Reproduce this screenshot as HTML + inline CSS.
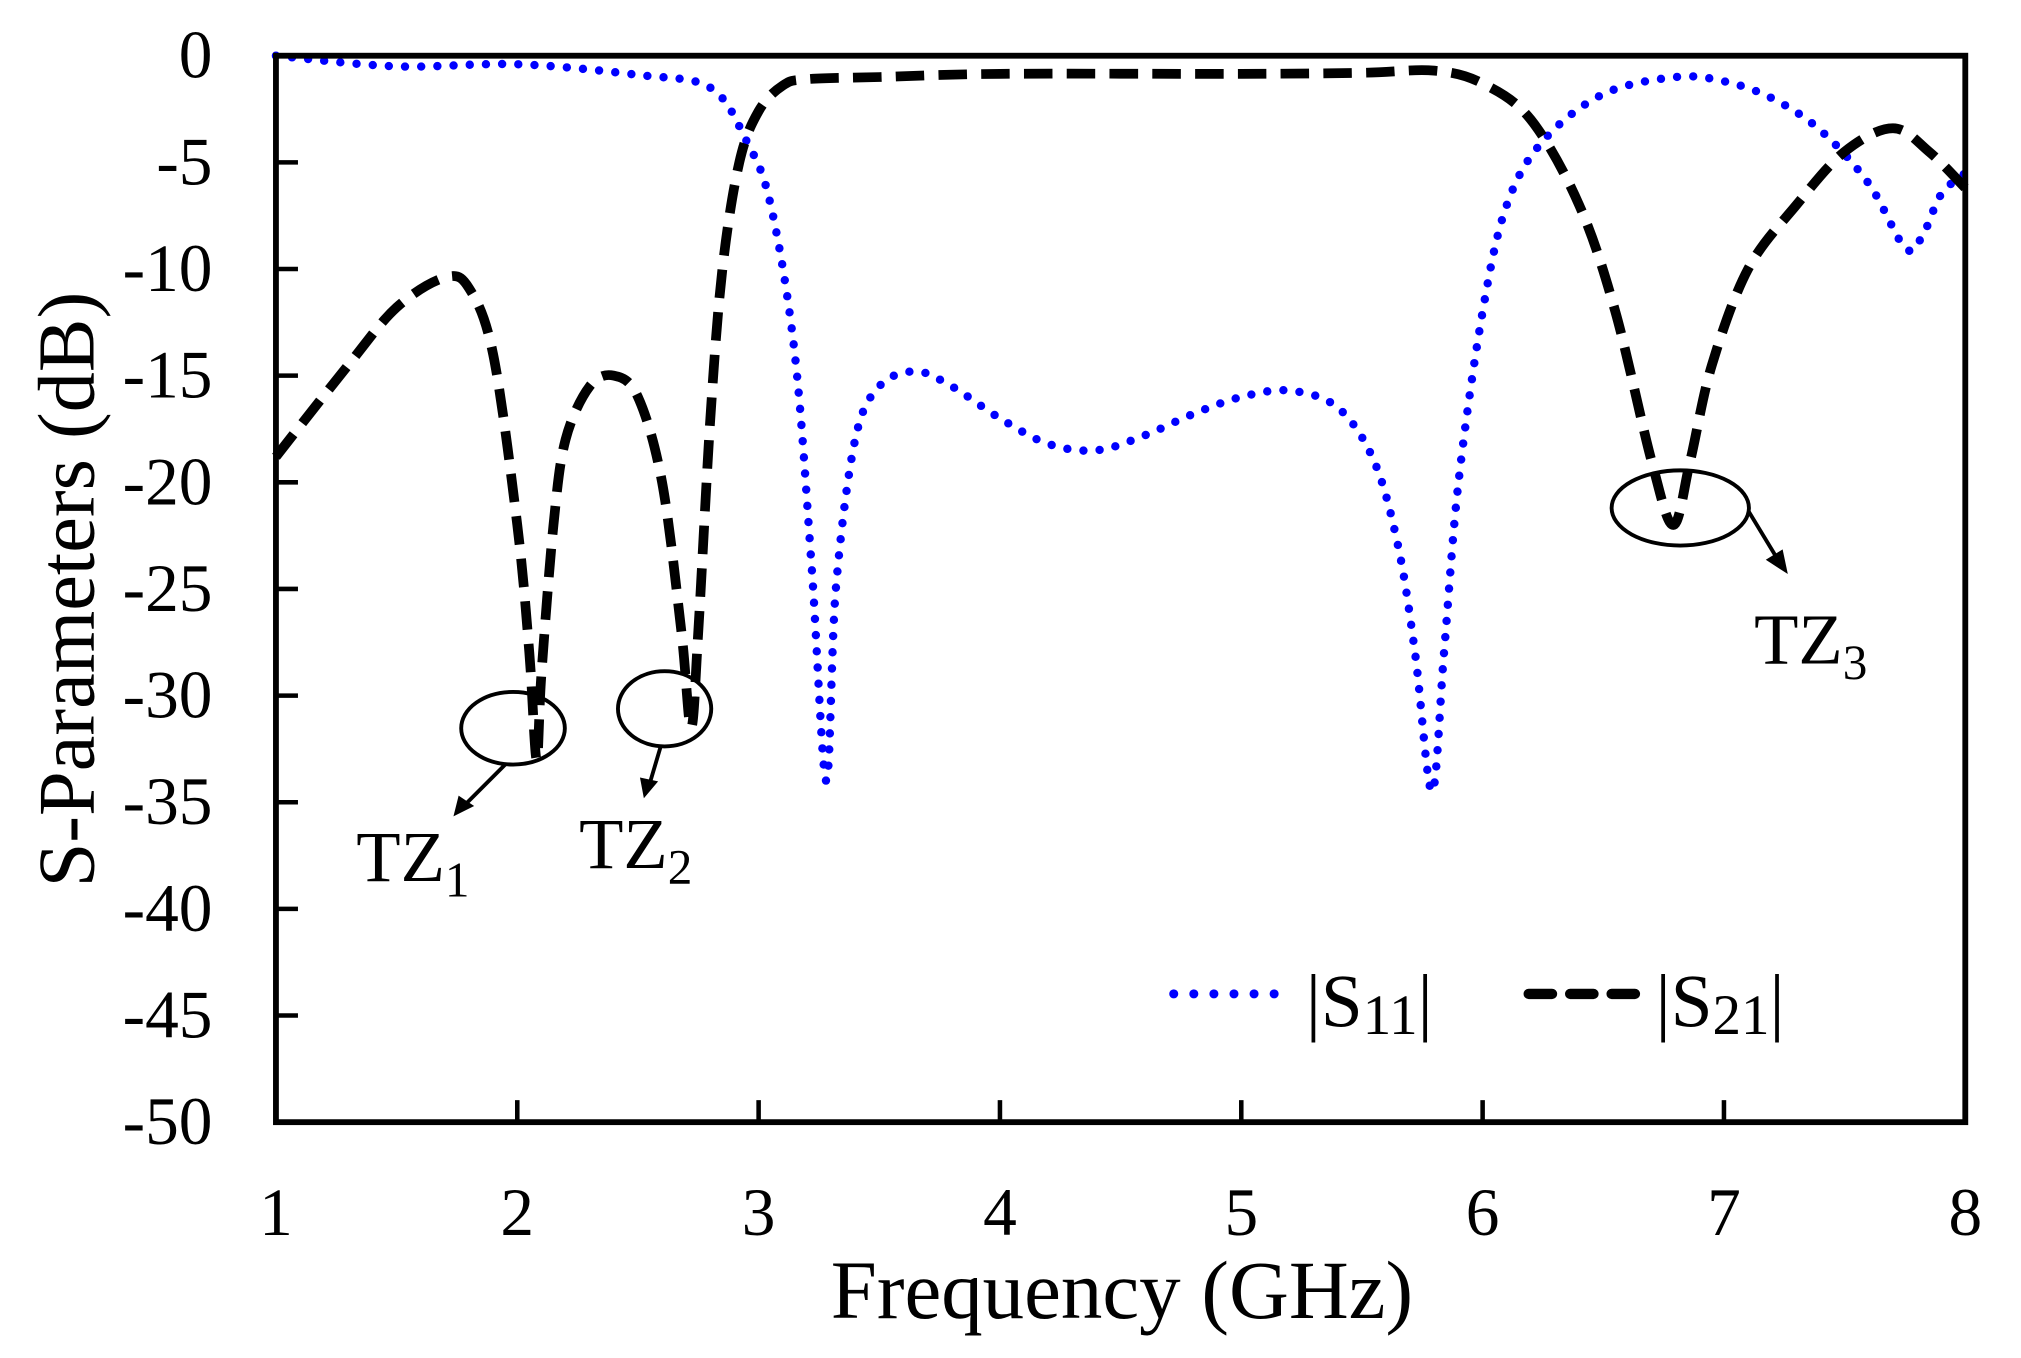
<!DOCTYPE html>
<html><head><meta charset="utf-8"><style>
html,body{margin:0;padding:0;background:#fff;}
svg{display:block;}
text{font-family:"Liberation Serif",serif;fill:#000;}
</style></head><body>
<svg id="s" width="2021" height="1358" viewBox="0 0 1560 1048" preserveAspectRatio="none" xmlns="http://www.w3.org/2000/svg">
<g id="ticks"></g>
<path id="s11" fill="none" stroke="#0000ff" stroke-width="6.5" stroke-linecap="round" stroke-dasharray="0 12.5"/>
<path id="s21" fill="none" stroke="#000" stroke-width="7.5" stroke-dasharray="22 11"/>
<rect x="213" y="43" width="1304" height="823" fill="none" stroke="#000" stroke-width="4.5"/>
<g font-size="52" text-anchor="end" id="ylab"></g>
<g font-size="52" text-anchor="middle" id="xlab"></g>
<text x="866" y="1017" font-size="64" text-anchor="middle">Frequency (GHz)</text>
<text transform="translate(72,455) rotate(-90)" font-size="62" text-anchor="middle">S-Parameters (dB)</text>
<!-- annotations -->
<ellipse cx="396" cy="562" rx="40" ry="28" fill="none" stroke="#000" stroke-width="3"/>
<line x1="390" y1="590" x2="360" y2="620" stroke="#000" stroke-width="3"/>
<polygon points="350,630 354,614 366,622" fill="#000"/>
<ellipse cx="513" cy="547" rx="36" ry="29" fill="none" stroke="#000" stroke-width="3"/>
<line x1="510" y1="576" x2="502" y2="603" stroke="#000" stroke-width="3"/>
<polygon points="497,616 494,600 508,603" fill="#000"/>
<ellipse cx="1297" cy="392" rx="53" ry="29" fill="none" stroke="#000" stroke-width="3"/>
<line x1="1350" y1="395" x2="1370" y2="428" stroke="#000" stroke-width="3"/>
<polygon points="1380,443 1363,432 1376,424" fill="#000"/>
<text x="275" y="680" font-size="56">TZ<tspan font-size="38" dy="12">1</tspan></text>
<text x="447" y="670" font-size="56">TZ<tspan font-size="38" dy="12">2</tspan></text>
<text x="1354" y="512" font-size="56">TZ<tspan font-size="38" dy="12">3</tspan></text>
<!-- legend -->
<line x1="906" y1="767" x2="998" y2="767" stroke="#0000ff" stroke-width="7" stroke-linecap="round" stroke-dasharray="0 15.5"/>
<text x="1008" y="792" font-size="58">|S<tspan font-size="44" dy="6">11</tspan><tspan dy="-6">|</tspan></text>
<line x1="1180" y1="767" x2="1270" y2="767" stroke="#000" stroke-width="8" stroke-linecap="round" stroke-dasharray="18 14"/>
<text x="1278" y="792" font-size="58">|S<tspan font-size="44" dy="6">21</tspan><tspan dy="-6">|</tspan></text>
</svg>
<script>
var X=function(f){return 213+(f-1)*186.2857;},Y=function(d){return 43-d*16.46;};
var ns="http://www.w3.org/2000/svg";
var t=document.getElementById('ticks'),yl=document.getElementById('ylab'),xl=document.getElementById('xlab');
function el(p,n,a,txt){var e=document.createElementNS(ns,n);for(var k in a)e.setAttribute(k,a[k]);if(txt!=null)e.textContent=txt;p.appendChild(e);}
for(var d=0;d>=-50;d-=5){el(t,'line',{x1:213,x2:230,y1:Y(d),y2:Y(d),stroke:'#000','stroke-width':3.5});el(yl,'text',{x:164,y:Y(d)+17},String(d));}
for(var f=1;f<=8;f++){el(t,'line',{x1:X(f),x2:X(f),y1:866,y2:849,stroke:'#000','stroke-width':3.5});el(xl,'text',{x:X(f),y:953},String(f));}
function path(pts){var P=pts.map(function(p){return [X(p[0]),Y(p[1])];});var s='M'+P[0][0]+','+P[0][1];
for(var i=0;i<P.length-1;i++){var p0=P[i-1]||P[i],p1=P[i],p2=P[i+1],p3=P[i+2]||p2;
s+=' C'+(p1[0]+(p2[0]-p0[0])/6)+','+(p1[1]+(p2[1]-p0[1])/6)+' '+(p2[0]-(p3[0]-p1[0])/6)+','+(p2[1]-(p3[1]-p1[1])/6)+' '+p2[0]+','+p2[1];}return s;}
var s21=[[1,-18.8],[1.3,-14.5],[1.5,-11.8],[1.7,-10.4],[1.8,-10.9],[1.9,-14],[2.0,-22],[2.05,-28],[2.08,-33],[2.1,-29],[2.15,-22],[2.2,-18],[2.3,-15.5],[2.4,-15],[2.5,-16],[2.6,-20],[2.68,-27],[2.72,-31.5],[2.75,-27],[2.8,-17],[2.85,-10],[2.92,-5],[3.0,-2.6],[3.1,-1.4],[3.2,-1.1],[3.5,-1.0],[4,-0.85],[5,-0.85],[5.5,-0.8],[5.8,-0.7],[6.0,-1.3],[6.2,-3],[6.4,-7],[6.55,-12],[6.7,-19],[6.79,-22],[6.86,-19],[6.95,-14.5],[7.1,-10],[7.3,-7],[7.5,-4.5],[7.7,-3.4],[7.85,-4.5],[8,-6.2]];
var s11=[[1,0],[1.5,-0.5],[2,-0.4],[2.5,-0.9],[2.8,-1.5],[2.95,-4],[3.05,-7],[3.15,-14],[3.22,-24],[3.28,-34],[3.32,-25],[3.4,-18],[3.5,-15.5],[3.65,-14.8],[3.8,-15.5],[4.0,-17],[4.2,-18.2],[4.4,-18.5],[4.6,-17.8],[4.8,-16.8],[5.0,-16],[5.2,-15.7],[5.4,-16.5],[5.55,-19],[5.65,-23],[5.72,-28],[5.79,-34.5],[5.84,-28],[5.9,-20],[6.0,-12],[6.1,-7],[6.25,-4],[6.5,-1.8],[6.8,-1],[7.0,-1.2],[7.2,-2],[7.4,-3.5],[7.6,-6],[7.75,-9],[7.82,-8.5],[7.9,-6.5],[8,-5.5]];
document.getElementById('s21').setAttribute('d',path(s21));
document.getElementById('s11').setAttribute('d',path(s11));
</script>
</body></html>
